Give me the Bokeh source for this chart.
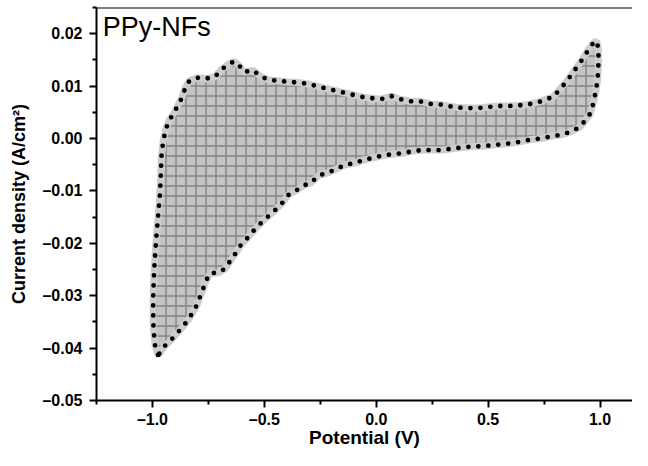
from bokeh.plotting import figure
from bokeh.models import Range1d, FixedTicker, CustomJSTickFormatter, Label, Span
from bokeh.embed import file_html
from bokeh.resources import INLINE

# Cyclic voltammogram outline (V, A/cm^2), traced around the loop
potential = [
    -0.975, -0.988, -0.995, -0.997, -0.996, -0.992, -0.987, -0.981, -0.974, -0.967,
    -0.963, -0.960, -0.952, -0.940, -0.925, -0.906, -0.888, -0.868, -0.853, -0.835,
    -0.800, -0.763, -0.720, -0.696, -0.660, -0.635, -0.612, -0.592, -0.550, -0.518,
    -0.482, -0.437, -0.393, -0.350, -0.300, -0.250, -0.200, -0.150, -0.100, -0.060,
    -0.022, 0.022, 0.067, 0.107, 0.152, 0.196, 0.241, 0.286, 0.320, 0.366,
    0.410, 0.455, 0.500, 0.545, 0.590, 0.634, 0.679, 0.723, 0.759, 0.790,
    0.8125, 0.839, 0.866, 0.893, 0.915, 0.933, 0.955, 0.972, 0.985,
    0.992, 0.993, 0.992, 0.988, 0.982, 0.975, 0.968, 0.955, 0.933, 0.910,
    0.871, 0.826, 0.780, 0.737, 0.692, 0.647, 0.603, 0.558, 0.513,
    0.478, 0.433, 0.388, 0.344, 0.299, 0.254, 0.210, 0.165, 0.120, 0.076,
    0.031, -0.013, -0.058, -0.094, -0.138, -0.178, -0.214, -0.259, -0.290, -0.326,
    -0.357, -0.393, -0.424, -0.460, -0.500, -0.540, -0.580, -0.605, -0.630, -0.652,
    -0.674, -0.705, -0.741, -0.759, -0.772, -0.786, -0.800, -0.820, -0.839, -0.862,
    -0.893, -0.920, -0.950, -0.968,
]
current = [
    -0.0413, -0.0395, -0.0365, -0.0330, -0.0290, -0.0250, -0.0215, -0.0180, -0.0145, -0.0110,
    -0.0075, -0.0035, -0.0005, 0.0018, 0.0035, 0.0047, 0.0062, 0.0078, 0.0097, 0.0110,
    0.0116, 0.0114, 0.0118, 0.0130, 0.0142, 0.0147, 0.0139, 0.0127, 0.0130, 0.0119,
    0.0112, 0.0110, 0.0108, 0.0107, 0.0104, 0.0098, 0.0093, 0.0088, 0.0083, 0.0079,
    0.0077, 0.0075, 0.0081, 0.0075, 0.0071, 0.0071, 0.0066, 0.0065, 0.0062, 0.0059,
    0.0058, 0.0058, 0.0060, 0.0062, 0.0062, 0.0063, 0.0065, 0.0069, 0.0075, 0.0079,
    0.0090, 0.0103, 0.0118, 0.0134, 0.0147, 0.0159, 0.0174, 0.0183, 0.0186,
    0.0172, 0.0155, 0.0130, 0.0110, 0.0092, 0.0078, 0.0064, 0.0047, 0.0034, 0.0022,
    0.0013, 0.0007, 0.0004, 0.0000, -0.0002, -0.0006, -0.0009, -0.0011, -0.0013,
    -0.0015, -0.0015, -0.0017, -0.0019, -0.0022, -0.0022, -0.0022, -0.0024, -0.0028, -0.0030,
    -0.0032, -0.0037, -0.0041, -0.0047, -0.0050, -0.0058, -0.0065, -0.0071, -0.0084, -0.0090,
    -0.0099, -0.0108, -0.0125, -0.0140, -0.0155, -0.0172, -0.0192, -0.0203, -0.0220, -0.0233,
    -0.0248, -0.0256, -0.0257, -0.0270, -0.0285, -0.0300, -0.0317, -0.0332, -0.0345, -0.0358,
    -0.0373, -0.0386, -0.0398, -0.0410,
]

x_ticks = [-1.0, -0.5, 0.0, 0.5, 1.0]
x_minor = [-1.25, -0.75, -0.25, 0.25, 0.75]
y_ticks = [-0.05, -0.04, -0.03, -0.02, -0.01, 0.0, 0.01, 0.02]
y_minor = [-0.045, -0.035, -0.025, -0.015, -0.005, 0.005, 0.015, 0.025]
title_text = "PPy-NFs"
x_title = "Potential (V)"
y_title = "Current density (A/cm²)"

FONT = "Liberation Sans"
Y0, Y1 = -0.05, 0.025

p = figure(width=632, height=450, output_backend="svg", toolbar_location=None,
           x_range=Range1d(-1.25, 1.145), y_range=Range1d(Y0, Y1),
           min_border_left=96, min_border_top=7, min_border_right=0, min_border_bottom=0)
p.outline_line_color = None
p.xgrid.visible = False
p.ygrid.visible = False
p.background_fill_color = "white"
p.border_fill_color = "white"

# filled loop with grid hatch and soft gray halo
p.patch(potential, current, fill_color="#c4c4c4", line_color="#cdcdcd", line_width=7,
        hatch_pattern="+", hatch_color="#858585", hatch_scale=10, hatch_weight=1.4)
# dotted black outline
p.line(potential + potential[:1], current + current[:1], line_color="black", line_width=4.8,
       line_dash="0 10", line_cap="round")

p.add_layout(Span(location=Y1, dimension="width", line_color="black", line_width=2))

for ax, ticks, minor, fmt in ((p.xaxis[0], x_ticks, x_minor, 1), (p.yaxis[0], y_ticks, y_minor, 2)):
    ax.ticker = FixedTicker(ticks=ticks, minor_ticks=minor)
    ax.formatter = CustomJSTickFormatter(code="return tick.toFixed(%d).replace('-', '\u2013');" % fmt)
    ax.axis_line_width = 2
    ax.axis_line_color = "black"
    ax.major_tick_line_width = 2
    ax.minor_tick_line_width = 2
    ax.major_tick_in = 0
    ax.minor_tick_in = 0
    ax.major_tick_out = 7
    ax.minor_tick_out = 4
    ax.major_label_text_font = FONT
    ax.major_label_text_font_style = "bold"
    ax.major_label_text_font_size = "16px"
    ax.major_label_text_color = "black"
    ax.axis_label_text_font = FONT
    ax.axis_label_text_color = "black"
    ax.axis_label_text_font_style = "bold"

p.xaxis.axis_label = x_title
p.xaxis.axis_label_text_font_size = "19px"
p.xaxis.major_label_standoff = 3
p.xaxis.axis_label_standoff = -4
p.yaxis.axis_label = y_title
p.yaxis.axis_label_text_font_size = "18px"
p.yaxis.major_label_standoff = 7
p.yaxis.axis_label_standoff = 10

p.add_layout(Label(x=-1.222, y=Y1, y_offset=-4, text=title_text, text_font=FONT, text_font_size="27px",
                   text_baseline="top", text_align="left", text_color="black"))

open("out.html", "w").write(file_html(p, INLINE))
